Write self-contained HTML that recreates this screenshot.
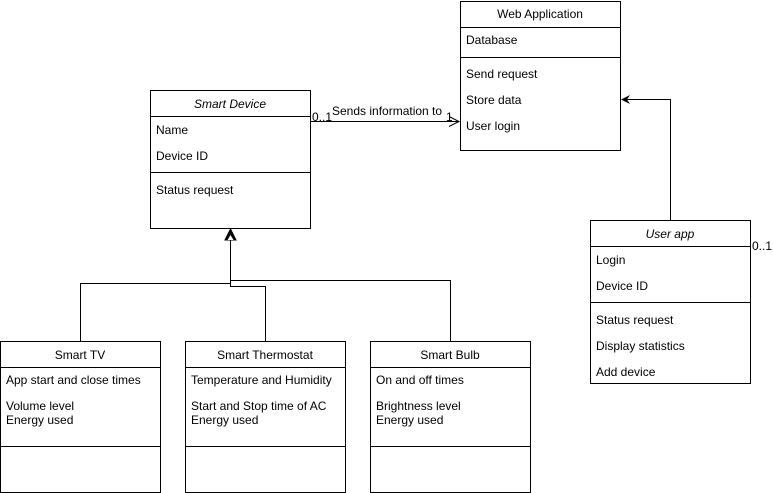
<!DOCTYPE html>
<html><head><style>body{margin:0;background:#fff}svg{display:block}text{font-family:"Liberation Sans",sans-serif;font-size:12px;fill:#000}</style></head>
<body>
<svg width="773" height="493" viewBox="0 0 773 493">
<g fill="none" stroke="#000" stroke-width="1">
<rect x="460.5" y="1.5" width="160" height="149"/>
<line x1="460" y1="27.5" x2="621" y2="27.5"/>
<line x1="460" y1="57.5" x2="621" y2="57.5"/>
<rect x="150.5" y="90.5" width="160" height="138"/>
<line x1="150" y1="116.5" x2="311" y2="116.5"/>
<line x1="150" y1="172.5" x2="311" y2="172.5"/>
<rect x="590.5" y="220.5" width="160" height="163"/>
<line x1="590" y1="246.5" x2="751" y2="246.5"/>
<line x1="590" y1="302.5" x2="751" y2="302.5"/>
<rect x="0.5" y="341.5" width="160" height="151"/>
<line x1="0" y1="367.5" x2="161" y2="367.5"/>
<line x1="0" y1="446.5" x2="161" y2="446.5"/>
<rect x="185.5" y="341.5" width="160" height="151"/>
<line x1="185" y1="367.5" x2="346" y2="367.5"/>
<line x1="185" y1="446.5" x2="346" y2="446.5"/>
<rect x="370.5" y="341.5" width="160" height="151"/>
<line x1="370" y1="367.5" x2="531" y2="367.5"/>
<line x1="370" y1="446.5" x2="531" y2="446.5"/>
<line x1="311" y1="121.5" x2="459" y2="121.5"/>
<polyline points="449,116.5 459,121.5 449,126.5"/>
<polyline points="670.5,220 670.5,99.5 622,99.5"/>
<polyline points="230.5,240 230.5,280.5 450.5,280.5 450.5,341"/>
<polyline points="230.5,280 230.5,283.5 80.5,283.5 80.5,341"/>
<polyline points="230.5,280 230.5,286.5 265.5,286.5 265.5,341"/>
</g>
<polygon points="621,99.5 630,95 627,99.5 630,104" fill="#000"/>
<polygon points="230.5,229 225,240 236,240" fill="#000" stroke="#000"/>
<polygon points="230.5,235 227.5,240 233.5,240" fill="#fff"/>
<text x="540" y="18" text-anchor="middle">Web Application</text>
<text x="466" y="44">Database</text>
<text x="466" y="78">Send request</text>
<text x="466" y="104">Store data</text>
<text x="466" y="130">User login</text>
<text x="230" y="108" text-anchor="middle" font-style="italic">Smart Device</text>
<text x="156" y="134">Name</text>
<text x="156" y="160">Device ID</text>
<text x="156" y="194">Status request</text>
<text x="312" y="121">0..1</text>
<text x="332" y="115">Sends information to</text>
<text x="446" y="121">1</text>
<text x="670" y="238" text-anchor="middle" font-style="italic">User app</text>
<text x="596" y="264">Login</text>
<text x="596" y="290">Device ID</text>
<text x="596" y="324">Status request</text>
<text x="596" y="350">Display statistics</text>
<text x="596" y="376">Add device</text>
<text x="752" y="250">0..1</text>
<text x="80" y="359" text-anchor="middle">Smart TV</text>
<text x="6" y="384">App start and close times</text>
<text x="6" y="410">Volume level</text>
<text x="6" y="424">Energy used</text>
<text x="265" y="359" text-anchor="middle">Smart Thermostat</text>
<text x="191" y="384">Temperature and Humidity</text>
<text x="191" y="410">Start and Stop time of AC</text>
<text x="191" y="424">Energy used</text>
<text x="450" y="359" text-anchor="middle">Smart Bulb</text>
<text x="376" y="384">On and off times</text>
<text x="376" y="410">Brightness level</text>
<text x="376" y="424">Energy used</text>
</svg>
</body></html>
